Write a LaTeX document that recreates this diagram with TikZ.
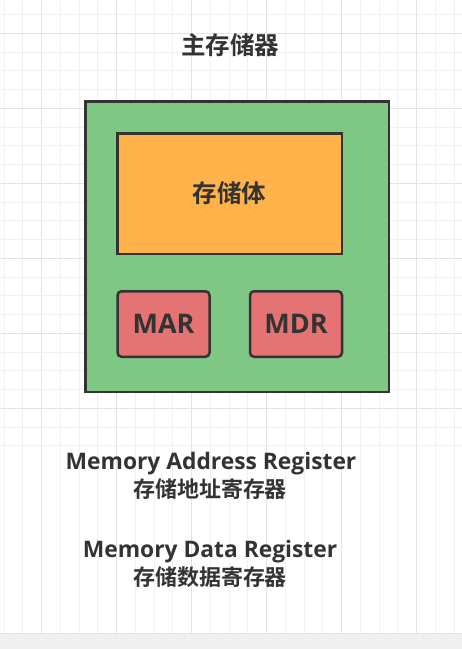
\documentclass[tikz,border=0pt]{standalone}
\usepackage{fontspec}
\setmainfont{Open Sans}
\newfontfamily\cjk{Noto Sans CJK SC}[BoldFont={Noto Sans CJK SC Bold}]
\usepackage{tikz}
\usetikzlibrary{calc}

\definecolor{gridminor}{HTML}{F0F0F0}
\definecolor{gridmajor}{HTML}{E3E3E3}
\definecolor{stripgray}{HTML}{F0F0F0}
\definecolor{boxgreen}{HTML}{7FC785}
\definecolor{boxorange}{HTML}{FFB34A}
\definecolor{boxred}{HTML}{E57373}
\definecolor{ink}{HTML}{333333}

\tikzset{
    box/.style={draw=ink, line width=2.5pt, inner sep=0pt},
    regbox/.style={box, fill=boxred, rounded corners=4pt,
        minimum width=92pt, minimum height=65.5pt},
    lbl/.style={text=ink, font=\bfseries, inner sep=0pt}
}

\begin{document}
\begin{tikzpicture}[x=1pt,y=-1pt]
            \useasboundingbox (0,0) rectangle (462,649);
            \fill[white] (0,0) rectangle (462,649);

            \foreach \k in {-2,...,22} {
                \pgfmathsetmacro{\gx}{41.67+18.75*\k}
                \pgfmathsetmacro{\gy}{33.33+18.75*\k}
                \pgfmathtruncatemacro{\m}{mod(\k+8,4)}
                \ifnum\m=0
                    \draw[gridmajor, line width=1pt] (\gx,0) -- (\gx,633);
                    \draw[gridmajor, line width=1pt] (0,\gy) -- (462,\gy);
                \else
                    \draw[gridminor, line width=1pt] (\gx,0) -- (\gx,633);
                    \draw[gridminor, line width=1pt] (0,\gy) -- (462,\gy);
                \fi
            }
            \fill[stripgray] (0,633) rectangle (462,649);
            \draw[gridmajor, line width=1pt] (0,633) -- (462,633);

            \node[lbl, font=\cjk\bfseries\fontsize{24.5}{28}\selectfont] (title) at (230,45) {主存储器};

            \node[box, fill=boxgreen, minimum width=303.5pt, minimum height=290.5pt] (memory) at (237,246.5) {};
            \node[box, fill=boxorange, minimum width=224.5pt, minimum height=120.5pt] (bank) at (229.5,193.5) {};
            \node[lbl, font=\cjk\bfseries\fontsize{24.5}{28}\selectfont] at (bank) {存储体};

            \node[regbox] (mar) at (163.5,324) {};
            \node[regbox] (mdr) at (296,324) {};
            \node[lbl, font=\bfseries\fontsize{27}{32}\selectfont] at (mar) {MAR};
            \node[lbl, font=\bfseries\fontsize{27}{32}\selectfont] at (mdr) {MDR};

            \node[lbl, font=\bfseries\fontsize{22.8}{26}\selectfont, anchor=base] (marname) at (211,469) {Memory Address Register};
            \node[lbl, font=\cjk\bfseries\fontsize{22}{25}\selectfont] (marcn) at (210,489) {存储地址寄存器};
            \node[lbl, font=\bfseries\fontsize{22.8}{26}\selectfont, anchor=base] (mdrname) at (210,557) {Memory Data Register};
            \node[lbl, font=\cjk\bfseries\fontsize{22}{25}\selectfont] (mdrcn) at (210,577) {存储数据寄存器};
        \end{tikzpicture}
\end{document}
